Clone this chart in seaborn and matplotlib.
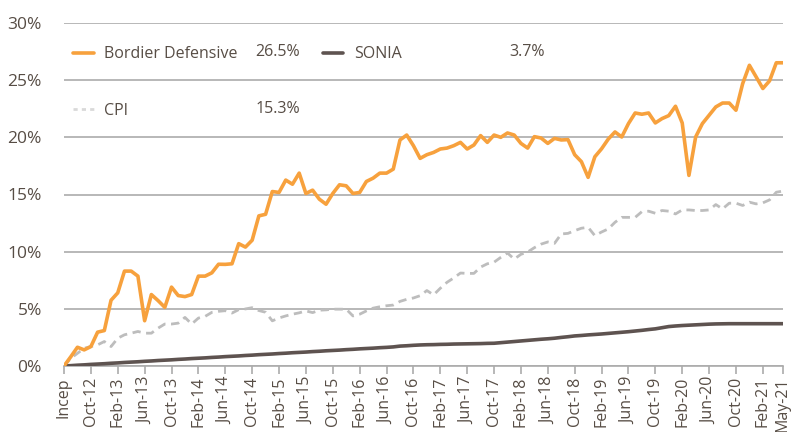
import numpy as np
import pandas as pd
import matplotlib
matplotlib.use("Agg")
import matplotlib.pyplot as plt
import seaborn as sns
from matplotlib.lines import Line2D

# ---------------- data (monthly, Incep = Jun-12 ... May-21) ----------------
tick_labels = ["Incep", "Oct-12", "Feb-13", "Jun-13", "Oct-13", "Feb-14", "Jun-14",
               "Oct-14", "Feb-15", "Jun-15", "Oct-15", "Feb-16", "Jun-16", "Oct-16",
               "Feb-17", "Jun-17", "Oct-17", "Feb-18", "Jun-18", "Oct-18", "Feb-19",
               "Jun-19", "Oct-19", "Feb-20", "Jun-20", "Oct-20", "Feb-21", "May-21"]
tick_positions = list(range(0, 105, 4)) + [107]

bordier = [0.0, 0.8, 1.64, 1.41, 1.70, 2.96, 3.10, 5.75, 6.40, 8.30,
           8.30, 7.86, 3.96, 6.25, 5.72, 5.13, 6.90, 6.16, 6.07, 6.25,
           7.86, 7.86, 8.15, 8.90, 8.89, 8.94, 10.70, 10.40, 11.00, 13.13,
           13.27, 15.26, 15.18, 16.26, 15.90, 16.87, 15.09, 15.38, 14.59, 14.15,
           15.09, 15.85, 15.76, 15.09, 15.18, 16.14, 16.43, 16.87, 16.87, 17.22,
           19.77, 20.20, 19.27, 18.16, 18.48, 18.68, 18.98, 19.06, 19.27, 19.56,
           18.98, 19.33, 20.15, 19.56, 20.20, 20.00, 20.38, 20.20, 19.47, 19.06,
           20.06, 19.94, 19.47, 19.91, 19.77, 19.80, 18.48, 17.87, 16.50, 18.30,
           19.00, 19.85, 20.47, 20.03, 21.20, 22.13, 22.02, 22.13, 21.26, 21.64,
           21.90, 22.72, 21.26, 16.67, 20.03, 21.20, 21.93, 22.66, 23.00, 23.00,
           22.37, 24.70, 26.30, 25.29, 24.27, 24.94, 26.52, 26.52]

cpi = [0.0, 0.67, 1.11, 1.55, 1.70, 1.85, 2.14, 1.70, 2.43, 2.73,
       2.87, 3.02, 2.87, 2.87, 3.31, 3.67, 3.67, 3.75, 4.25, 3.67,
       4.19, 4.34, 4.69, 4.78, 4.84, 4.63, 4.93, 4.99, 5.10, 4.85,
       4.70, 3.95, 4.20, 4.38, 4.53, 4.65, 4.82, 4.67, 4.88, 4.91,
       4.97, 4.97, 4.97, 4.38, 4.53, 4.82, 5.06, 5.18, 5.27, 5.33,
       5.65, 5.83, 5.95, 6.15, 6.60, 6.22, 6.80, 7.32, 7.70, 8.13,
       8.10, 8.10, 8.65, 8.94, 9.08, 9.50, 9.88, 9.35, 9.77, 9.97,
       10.35, 10.66, 10.85, 10.73, 11.55, 11.60, 11.84, 12.05, 12.13, 11.40,
       11.72, 11.99, 12.57, 13.00, 13.00, 13.00, 13.50, 13.54, 13.36, 13.60,
       13.54, 13.30, 13.65, 13.65, 13.60, 13.60, 13.65, 14.12, 13.74, 14.24,
       14.24, 14.04, 14.33, 14.18, 14.27, 14.53, 15.20, 15.30]

sonia = [0.00, 0.03, 0.07, 0.10, 0.14, 0.17, 0.20, 0.24, 0.27, 0.31,
         0.34, 0.37, 0.41, 0.44, 0.48, 0.51, 0.54, 0.58, 0.61, 0.65,
         0.68, 0.71, 0.75, 0.78, 0.82, 0.85, 0.88, 0.92, 0.95, 0.99,
         1.02, 1.05, 1.09, 1.12, 1.16, 1.19, 1.22, 1.26, 1.29, 1.33,
         1.36, 1.39, 1.43, 1.46, 1.50, 1.53, 1.56, 1.60, 1.63, 1.67,
         1.74, 1.77, 1.81, 1.84, 1.86, 1.87, 1.89, 1.90, 1.92, 1.93,
         1.94, 1.95, 1.96, 1.98, 1.99, 2.04, 2.09, 2.14, 2.19, 2.24,
         2.29, 2.34, 2.38, 2.43, 2.50, 2.56, 2.63, 2.67, 2.72, 2.76,
         2.80, 2.85, 2.90, 2.95, 3.00, 3.06, 3.12, 3.19, 3.25, 3.35,
         3.45, 3.50, 3.54, 3.57, 3.60, 3.63, 3.66, 3.68, 3.69, 3.70,
         3.70, 3.70, 3.70, 3.70, 3.70, 3.70, 3.70, 3.70]

series_names = ["Bordier Defensive", "CPI", "SONIA"]

# ---------------- styling ----------------
ORANGE = "#F7A13D"
SONIA_C = "#5E5350"
CPI_C = "#BDBDBD"
GRID_C = "#ABABAB"
TEXT_C = "#574D45"

sns.set_style("white")
plt.rcParams['font.family'] = ['Open Sans', 'DejaVu Sans']

months = np.arange(len(bordier))
df = pd.DataFrame({"month": months, "Bordier Defensive": bordier,
                   "CPI": cpi, "SONIA": sonia})

fig = plt.figure(figsize=(8.04, 4.32), dpi=100)
ax = fig.add_axes([64 / 804, 1 - 366 / 432, 719 / 804, 343 / 432])

sns.lineplot(data=df, x="month", y="CPI", ax=ax, color=CPI_C, linewidth=2.0,
             zorder=2).lines[-1].set_dashes((3, 2))
sns.lineplot(data=df, x="month", y="SONIA", ax=ax, color=SONIA_C, linewidth=2.6, zorder=3)
sns.lineplot(data=df, x="month", y="Bordier Defensive", ax=ax, color=ORANGE,
             linewidth=2.6, zorder=4)

ax.set_xlim(0, 107)
ax.set_ylim(0, 30)
ax.set_yticks(range(0, 31, 5))
ax.set_yticklabels([f"{v}%" for v in range(0, 31, 5)])
ax.set_xticks(tick_positions)
ax.set_xticklabels(tick_labels, rotation=90)
ax.set_xlabel("")
ax.set_ylabel("")

ax.yaxis.grid(True, color=GRID_C, linewidth=1.2, zorder=0)
ax.xaxis.grid(False)
for s in ["top", "right", "left"]:
    ax.spines[s].set_visible(False)
ax.spines["bottom"].set_color(GRID_C)
ax.spines["bottom"].set_linewidth(1.2)

ax.tick_params(axis="x", direction="out", length=6, width=1.2, color=GRID_C,
               labelsize=11.5, labelcolor=TEXT_C, pad=2, bottom=True)
ax.tick_params(axis="y", length=0, pad=16, labelsize=12.5, labelcolor=TEXT_C)

# ---------------- legend ----------------
handles = [Line2D([], [], color=ORANGE, linewidth=2.6),
           Line2D([], [], color="#D9D9D9", linewidth=2.0, linestyle=(0, (1.5, 1.5))),
           Line2D([], [], color=SONIA_C, linewidth=2.6)]
leg = ax.legend(handles, series_names, ncol=2, loc="upper left",
                bbox_to_anchor=(0.013, 0.932), frameon=False, fontsize=11.5,
                handlelength=1.3, handletextpad=0.65, labelspacing=2.55,
                columnspacing=5.3, borderaxespad=0, borderpad=0,
                labelcolor=TEXT_C)

final_vals = [bordier[-1], cpi[-1], sonia[-1]]
fig.text(300 / 804, 1 - 52 / 432, f"{final_vals[0]:.1f}%", ha="right", va="center",
         fontsize=11.5, color=TEXT_C)
fig.text(300 / 804, 1 - 109 / 432, f"{final_vals[1]:.1f}%", ha="right", va="center",
         fontsize=11.5, color=TEXT_C)
fig.text(545 / 804, 1 - 52 / 432, f"{final_vals[2]:.1f}%", ha="right", va="center",
         fontsize=11.5, color=TEXT_C)

fig.savefig("out.png", dpi=100)
